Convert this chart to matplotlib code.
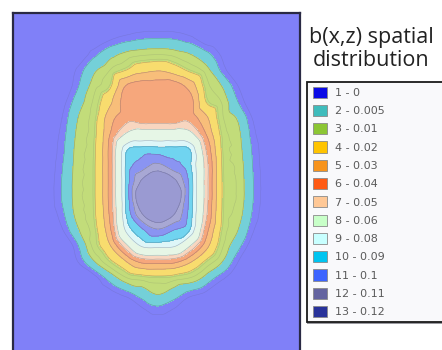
import numpy as np
import matplotlib
matplotlib.use("Agg")
import matplotlib.pyplot as plt
import matplotlib.tri as mtri
from matplotlib.patches import Patch, Rectangle

# Legend classes: lower bound of b for each class
class_ids = list(range(1, 14))
class_bounds = [0, 0.005, 0.01, 0.02, 0.03, 0.04, 0.05, 0.06, 0.08, 0.09, 0.1, 0.11, 0.12]

# Sampling grid (horizontal position x, depth z)
x_nodes = np.arange(33, 258, 16)   # 15 columns
z_nodes = np.arange(9, 314, 16)    # 20 rows

# b(x,z) sampled on the grid, one row per depth
b_rows = [
    [0, 0, 0, 0, 0, 0, 0, 0, 0, 0, 0, 0, 0, 0, 0],
    [0, 0, 0, 0, 0.0019, 0.0034, 0.0045, 0.0047, 0.0045, 0.0031, 0.0006, 0, 0, 0, 0],
    [0, 0, 0, 0.0039, 0.008, 0.0111, 0.0129, 0.0135, 0.0124, 0.010, 0.006, 0.0019, 0, 0, 0],
    [0, 0, 0.0031, 0.009, 0.014, 0.0198, 0.0267, 0.029, 0.025, 0.018, 0.012, 0.004, 0, 0, 0],
    [0, 0, 0.0047, 0.0123, 0.0185, 0.0405, 0.045, 0.045, 0.045, 0.036, 0.0165, 0.0098, 0.0025, 0, 0],
    [0, 0.0013, 0.0075, 0.015, 0.028, 0.045, 0.046, 0.046, 0.046, 0.044, 0.020, 0.0136, 0.005, 0, 0],
    [0, 0.0025, 0.010, 0.0167, 0.036, 0.046, 0.0435, 0.0435, 0.0435, 0.046, 0.032, 0.015, 0.0093, 0.0019, 0],
    [0, 0.0034, 0.0112, 0.0176, 0.040, 0.061, 0.068, 0.068, 0.068, 0.064, 0.040, 0.0176, 0.0112, 0.0031, 0],
    [0, 0.004, 0.012, 0.0184, 0.044, 0.0883, 0.0945, 0.0944, 0.094, 0.0902, 0.050, 0.0188, 0.012, 0.004, 0],
    [0, 0.0047, 0.0124, 0.0188, 0.044, 0.0917, 0.105, 0.113, 0.104, 0.092, 0.055, 0.0196, 0.0129, 0.0044, 0],
    [0, 0.0052, 0.0127, 0.0188, 0.044, 0.092, 0.1223, 0.135, 0.1237, 0.0967, 0.055, 0.020, 0.0133, 0.0047, 0],
    [0, 0.0052, 0.0127, 0.0188, 0.044, 0.092, 0.1327, 0.140, 0.134, 0.0967, 0.055, 0.020, 0.0133, 0.0047, 0],
    [0, 0.004, 0.012, 0.0184, 0.042, 0.090, 0.1195, 0.1314, 0.1205, 0.095, 0.0525, 0.0195, 0.0123, 0.004, 0],
    [0, 0.0022, 0.0094, 0.0168, 0.038, 0.082, 0.098, 0.1086, 0.100, 0.0895, 0.045, 0.018, 0.010, 0.0025, 0],
    [0, 0, 0.0047, 0.0157, 0.029, 0.056, 0.0814, 0.0833, 0.0814, 0.060, 0.034, 0.015, 0.0063, 0.0006, 0],
    [0, 0, 0.0025, 0.0094, 0.0179, 0.029, 0.042, 0.0433, 0.042, 0.031, 0.018, 0.010, 0.0025, 0, 0],
    [0, 0, 0, 0.0013, 0.0068, 0.0135, 0.0162, 0.0177, 0.0164, 0.0138, 0.0081, 0.0031, 0, 0, 0],
    [0, 0, 0, 0, 0.0012, 0.0035, 0.0070, 0.0102, 0.0072, 0.0035, 0.0018, 0, 0, 0, 0],
    [0, 0, 0, 0, 0, 0, 0.0019, 0.0037, 0.0022, 0.0003, 0, 0, 0, 0, 0],
    [0, 0, 0, 0, 0, 0, 0, 0, 0, 0, 0, 0, 0, 0, 0],
]

# Class colours: saturated for the legend keys, faded for the map
key_colors = ["#0a0ae6", "#3fbcbc", "#8cc634", "#ffc400", "#f7941d", "#ff5a14",
              "#ffc896", "#c8ffc8", "#c8ffff", "#00c4f0", "#3c64ff", "#6464a0", "#28329a"]
fill_colors = ["#8080f8", "#74d0d8", "#c2dc7a", "#f8dc6e", "#f8be7a", "#f6a77c",
               "#f8d6c0", "#e6f6e6", "#def6f8", "#70d4f0", "#8a94f2", "#a8a8d4", "#9a9ad2"]

W, H = 442, 350
fig = plt.figure(figsize=(W / 100, H / 100), dpi=100)
fig.patch.set_facecolor("white")

# Map panel (its lower edge runs past the bottom of the figure)
ax = fig.add_axes([13 / W, -10 / H, 287 / W, 347 / H])
ax.set_facecolor(fill_colors[0])

# Triangulate the sampling grid and refine it for smooth isolines
XX, ZZ = np.meshgrid(x_nodes, z_nodes)
B = np.array(b_rows, dtype=float)
tri = mtri.Triangulation(XX.ravel(), ZZ.ravel())
refiner = mtri.UniformTriRefiner(tri)
interp = mtri.CubicTriInterpolator(tri, B.ravel(), kind="geom")
tri_f, b_f = refiner.refine_field(B.ravel(), triinterpolator=interp, subdiv=3)

levels = class_bounds + [1.0]
ax.tricontourf(tri_f, b_f, levels=levels, colors=fill_colors)
ax.tricontour(tri_f, b_f, levels=class_bounds[1:], colors="#404050",
              linewidths=0.45, alpha=0.35)
ax.tricontour(tri_f, b_f, levels=[0.0025, 0.014, 0.018], colors="#505060",
              linewidths=0.4, alpha=0.18)
ax.set_xlim(0, 287)
ax.set_ylim(347, 0)
ax.set_xticks([])
ax.set_yticks([])
for side, sp in ax.spines.items():
    sp.set_color("#2a2a44")
    sp.set_linewidth(1.6)

# Title
fig.text(371 / W, 1 - 38 / H, "b(x,z) spatial", ha="center", va="center",
         fontsize=15.5, family="Open Sans", color="#222222")
fig.text(371 / W, 1 - 61 / H, "distribution", ha="center", va="center",
         fontsize=15.5, family="Open Sans", color="#222222")

# Legend frame with a soft shadow
fig.patches.append(Rectangle((307 / W, 1 - 323.5 / H), 140 / W, 240 / H,
                             transform=fig.transFigure, facecolor="#9a9aa0",
                             edgecolor="none", zorder=1))
fig.patches.append(Rectangle((307 / W, 1 - 321.5 / H), 140 / W, 239.5 / H,
                             transform=fig.transFigure, facecolor="#f9f9fb",
                             edgecolor="#1a1a1a", linewidth=1.3, zorder=2))

handles = [Patch(facecolor=c, edgecolor="#8a8a8a", linewidth=0.6) for c in key_colors]
labels = [f"{i} - {v:g}" for i, v in zip(class_ids, class_bounds)]
leg = fig.legend(handles, labels, loc="upper left",
                 bbox_to_anchor=(313 / W, 1 - 86.5 / H), bbox_transform=fig.transFigure,
                 frameon=False, borderaxespad=0, borderpad=0,
                 prop={"family": "DejaVu Sans", "size": 8},
                 handlelength=1.26, handleheight=1.17, labelspacing=0.625,
                 handletextpad=0.72, labelcolor="#5a5a5a")
leg.set_zorder(5)

fig.savefig("out.png", dpi=100)
